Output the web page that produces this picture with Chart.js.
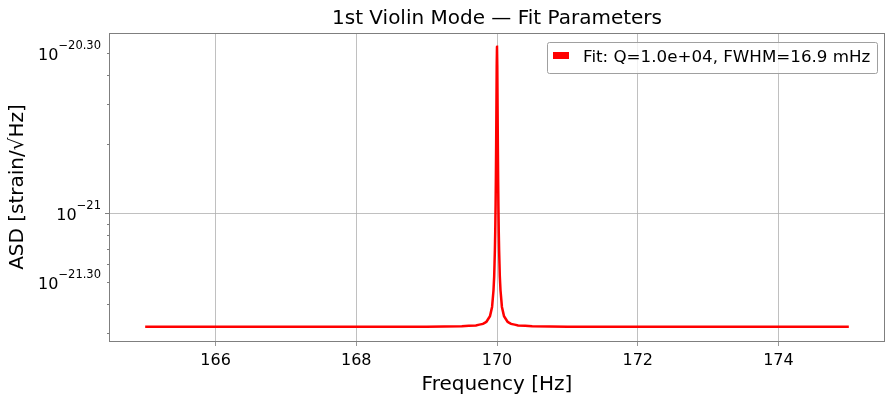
<!DOCTYPE html>
<html>
<head>
    <title>1st Violin Mode</title>
    <script src="https://cdn.jsdelivr.net/npm/chart.js"></script>
    <style>
        html, body { margin: 0; padding: 0; background: #fff; }
    </style>
</head>
<body>
    <canvas id="grafico" width="894" height="405"></canvas>
    <script>
        // Datos
        const freqHz = [165, 167, 169, 169.5, 169.7, 169.8, 169.85, 169.9, 169.93, 169.95, 169.96,
            169.97, 169.975, 169.98, 169.984, 169.988, 169.992, 169.996, 170,
            170.004, 170.008, 170.012, 170.016, 170.02, 170.025, 170.03, 170.04,
            170.05, 170.07, 170.1, 170.15, 170.2, 170.3, 170.5, 171, 173, 175];
        // ASD en unidades de 1e-22 strain/sqrt(Hz)
        const asdE22 = [3.2, 3.2, 3.2, 3.21, 3.24, 3.29, 3.36, 3.55, 3.9, 4.6, 5.3,
            6.9, 8.3, 10.8, 14.1, 19.8, 29.6, 44.0, 53.2,
            44.0, 29.6, 19.8, 14.1, 10.8, 8.3, 6.9, 5.3,
            4.6, 3.9, 3.55, 3.36, 3.29, 3.24, 3.21, 3.2, 3.2, 3.2];
        const xTicks = [166, 168, 170, 172, 174];
        const yTicks = [3e-22, 4e-22, 5e-22, 6e-22, 7e-22, 8e-22, 9e-22, 1e-21, 2e-21, 3e-21, 4e-21, 5e-21];
        const yLabels = { '5e-22': '−21.30', '1e-21': '−21', '5e-21': '−20.30' };
        const legendText = 'Fit: Q=1.0e+04, FWHM=16.9 mHz';

        const FONT = '"DejaVu Sans", sans-serif';
        const EDGE = '#7f7f7f';

        const puntos = freqHz.map((f, i) => ({ x: f, y: asdE22[i] * 1e-22 }));

        function esMayor(v) {
            return Math.abs(Math.log10(v) + 21) < 1e-6;
        }

        const extras = {
            id: 'extras',
            afterDraw(chart) {
                const ctx = chart.ctx;
                const a = chart.chartArea;
                const y = chart.scales.y;
                ctx.save();

                // marco
                ctx.strokeStyle = EDGE;
                ctx.lineWidth = 1;
                ctx.strokeRect(a.left - 0.5, a.top + 0.5, a.right - a.left + 1, a.bottom - a.top);

                // marcas y etiquetas del eje y
                yTicks.forEach(v => {
                    const py = Math.round(y.getPixelForValue(v)) + 0.5;
                    const len = esMayor(v) ? 5 : 3;
                    ctx.beginPath();
                    ctx.moveTo(a.left - len, py);
                    ctx.lineTo(a.left, py);
                    ctx.stroke();
                    const key = v.toExponential();
                    const exp = yLabels[key];
                    if (exp) {
                        ctx.fillStyle = '#000';
                        ctx.textBaseline = 'middle';
                        ctx.textAlign = 'right';
                        ctx.font = '11.5px ' + FONT;
                        const right = a.left - 9;
                        const we = ctx.measureText(exp).width;
                        ctx.fillText(exp, right, py - 7);
                        ctx.font = '16px ' + FONT;
                        ctx.fillText('10', right - we, py + 2);
                    }
                });

                // título
                ctx.fillStyle = '#000';
                ctx.textAlign = 'center';
                ctx.textBaseline = 'middle';
                ctx.font = '20px ' + FONT;
                ctx.fillText('1st Violin Mode — Fit Parameters', (a.left + a.right) / 2, 19);

                // título eje x
                ctx.fillText('Frequency [Hz]', (a.left + a.right) / 2, 385);

                // título eje y
                ctx.save();
                ctx.translate(18, (a.top + a.bottom) / 2);
                ctx.rotate(-Math.PI / 2);
                ctx.fillText('ASD [strain/√Hz]', 0, 0);
                ctx.restore();

                // leyenda
                const lx = 547, ly = 42, lw = 330, lh = 31;
                ctx.fillStyle = 'rgba(255,255,255,0.8)';
                ctx.strokeStyle = '#a0a0a0';
                ctx.beginPath();
                ctx.roundRect(lx + 0.5, ly + 0.5, lw, lh, 2);
                ctx.fill();
                ctx.stroke();
                ctx.fillStyle = '#ff0000';
                ctx.fillRect(553, 52, 16, 7);
                ctx.fillStyle = '#000';
                ctx.textAlign = 'left';
                ctx.font = '16.7px ' + FONT;
                ctx.fillText(legendText, 583, 57.5);

                ctx.restore();
            }
        };

        new Chart(document.getElementById('grafico').getContext('2d'), {
            type: 'line',
            data: {
                datasets: [{
                    label: legendText,
                    data: puntos,
                    borderColor: '#ff0000',
                    backgroundColor: '#ff0000',
                    borderWidth: 2.5,
                    pointRadius: 0,
                    tension: 0.0001,
                    fill: false
                }]
            },
            options: {
                responsive: false,
                animation: false,
                devicePixelRatio: 1,
                layout: { padding: { left: 0, right: 10, top: 33, bottom: 0 } },
                plugins: {
                    legend: { display: false },
                    tooltip: { enabled: false }
                },
                scales: {
                    x: {
                        type: 'linear',
                        min: 164.5,
                        max: 175.5,
                        afterBuildTicks(scale) {
                            scale.ticks = xTicks.map(v => ({ value: v }));
                        },
                        afterFit(scale) { scale.height = 64; },
                        grid: {
                            color: '#b0b0b0',
                            lineWidth: 0.8,
                            tickColor: EDGE,
                            tickLength: 5,
                            drawTicks: true
                        },
                        border: { display: false },
                        ticks: {
                            color: '#000',
                            font: { family: FONT, size: 16 },
                            padding: 5,
                            maxRotation: 0,
                            callback: v => String(v)
                        }
                    },
                    y: {
                        type: 'logarithmic',
                        min: 2.77e-22,
                        max: 6.11e-21,
                        afterBuildTicks(scale) {
                            scale.ticks = yTicks.map(v => ({ value: v }));
                        },
                        afterFit(scale) { scale.width = 110; },
                        grid: {
                            color: c => (c.tick && esMayor(c.tick.value)) ? '#b0b0b0' : 'rgba(0,0,0,0)',
                            lineWidth: 0.8,
                            drawTicks: false
                        },
                        border: { display: false },
                        ticks: { display: false }
                    }
                }
            },
            plugins: [extras]
        });
    </script>
</body>
</html>
